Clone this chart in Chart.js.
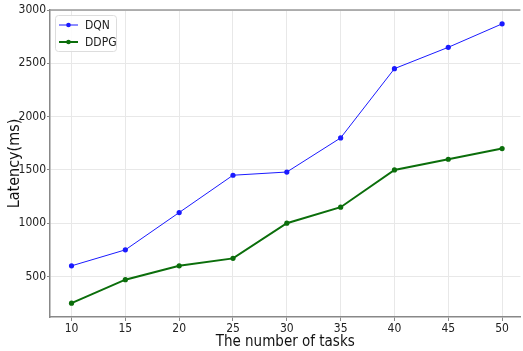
<!DOCTYPE html>
<html>
<head>
<meta charset="utf-8">
<script src="https://cdn.jsdelivr.net/npm/chart.js@4"></script>
<style>
  html, body { margin: 0; padding: 0; background: #fff; overflow: hidden; }
  #wrap { width: 523px; height: 351px; }
</style>
</head>
<body>
<div id="wrap"><canvas id="grafico"></canvas></div>
<script>
const tareas = [10, 15, 20, 25, 30, 35, 40, 45, 50];
const dqn = [600, 750, 1100, 1450, 1480, 1800, 2450, 2650, 2870];
const ddpg = [250, 470, 600, 670, 1000, 1150, 1500, 1600, 1700];
const yTicks = [500, 1000, 1500, 2000, 2500, 3000];

const fuente = "'DejaVu Sans Condensed', 'DejaVu Sans', sans-serif";
const toPoints = (vals) => tareas.map((t, i) => ({ x: t, y: vals[i] }));

// leyenda dibujada a mano (estilo matplotlib)
const leyenda = {
  id: "leyenda",
  afterDraw(chart) {
    const ctx = chart.ctx;
    const area = chart.chartArea;
    ctx.save();
    // linea superior del marco
    ctx.strokeStyle = "#999";
    ctx.lineWidth = 1.5;
    ctx.beginPath();
    ctx.moveTo(area.left, area.top);
    ctx.lineTo(area.right, area.top);
    ctx.stroke();

    const x0 = area.left + 5;
    const y0 = area.top + 5;
    ctx.fillStyle = "rgba(255,255,255,0.85)";
    ctx.strokeStyle = "#ddd";
    ctx.lineWidth = 1;
    ctx.beginPath();
    ctx.roundRect(x0 + 0.5, y0 + 0.5, 61, 36, 3);
    ctx.fill();
    ctx.stroke();
    ctx.font = "12px " + fuente;
    ctx.textBaseline = "middle";
    chart.data.datasets.forEach((ds, i) => {
      const y = y0 + 10 + i * 17;
      ctx.strokeStyle = ds.borderColor;
      ctx.lineWidth = ds.borderWidth;
      ctx.beginPath();
      ctx.moveTo(x0 + 4, y);
      ctx.lineTo(x0 + 23, y);
      ctx.stroke();
      ctx.fillStyle = ds.borderColor;
      ctx.beginPath();
      ctx.arc(x0 + 13.5, y, 2.3, 0, Math.PI * 2);
      ctx.fill();
      ctx.fillStyle = "#222";
      ctx.fillText(ds.label, x0 + 30, y + 1);
    });
    ctx.restore();
  },
};

const grafico = document.getElementById("grafico").getContext("2d");
const myChart = new Chart(grafico, {
  type: "line",
  data: {
    datasets: [
      {
        label: "DQN",
        data: toPoints(dqn),
        borderColor: "#1a1aff",
        backgroundColor: "#1a1aff",
        borderWidth: 1,
        pointRadius: 2.6,
        pointBorderWidth: 0,
        pointHoverRadius: 2.6,
        fill: false,
      },
      {
        label: "DDPG",
        data: toPoints(ddpg),
        borderColor: "#0b6e0b",
        backgroundColor: "#0b6e0b",
        borderWidth: 2,
        pointRadius: 2.6,
        pointBorderWidth: 0,
        pointHoverRadius: 2.6,
        fill: false,
      },
    ],
  },
  options: {
    responsive: true,
    maintainAspectRatio: false,
    animation: false,
    layout: { padding: { top: 10, right: 0, left: 0, bottom: 0 } },
    scales: {
      x: {
        type: "linear",
        min: 8,
        max: 51.7,
        afterBuildTicks: (scale) => {
          scale.ticks = tareas.map((v) => ({ value: v }));
        },
        afterFit: (scale) => {
          scale.height = 34;
        },
        ticks: {
          color: "#222",
          font: { family: fuente, size: 12 },
          padding: 1,
          maxRotation: 0,
          callback: (v) => String(v),
        },
        grid: {
          color: "#e8e8e8",
          tickLength: 4,
          tickColor: "#888",
        },
        border: { color: "#888", width: 1.5 },
        title: {
          display: true,
          text: "The number of tasks",
          color: "#111",
          font: { family: fuente, size: 15 },
          padding: { top: 0, bottom: 0 },
        },
      },
      y: {
        min: 120,
        max: 3000,
        afterBuildTicks: (scale) => {
          scale.ticks = yTicks.map((v) => ({ value: v }));
        },
        afterFit: (scale) => {
          scale.width = 50;
        },
        ticks: {
          color: "#222",
          font: { family: fuente, size: 12 },
          padding: 1,
          callback: (v) => String(v),
        },
        grid: {
          color: "#e8e8e8",
          tickLength: 3,
          tickColor: "#888",
        },
        border: { color: "#888", width: 1.5 },
        title: {
          display: true,
          text: "Latency(ms)",
          color: "#111",
          font: { family: fuente, size: 16 },
          padding: { top: 5, bottom: 0 },
        },
      },
    },
    plugins: {
      legend: { display: false },
      tooltip: { enabled: false },
    },
  },
  plugins: [leyenda],
});
</script>
</body>
</html>
